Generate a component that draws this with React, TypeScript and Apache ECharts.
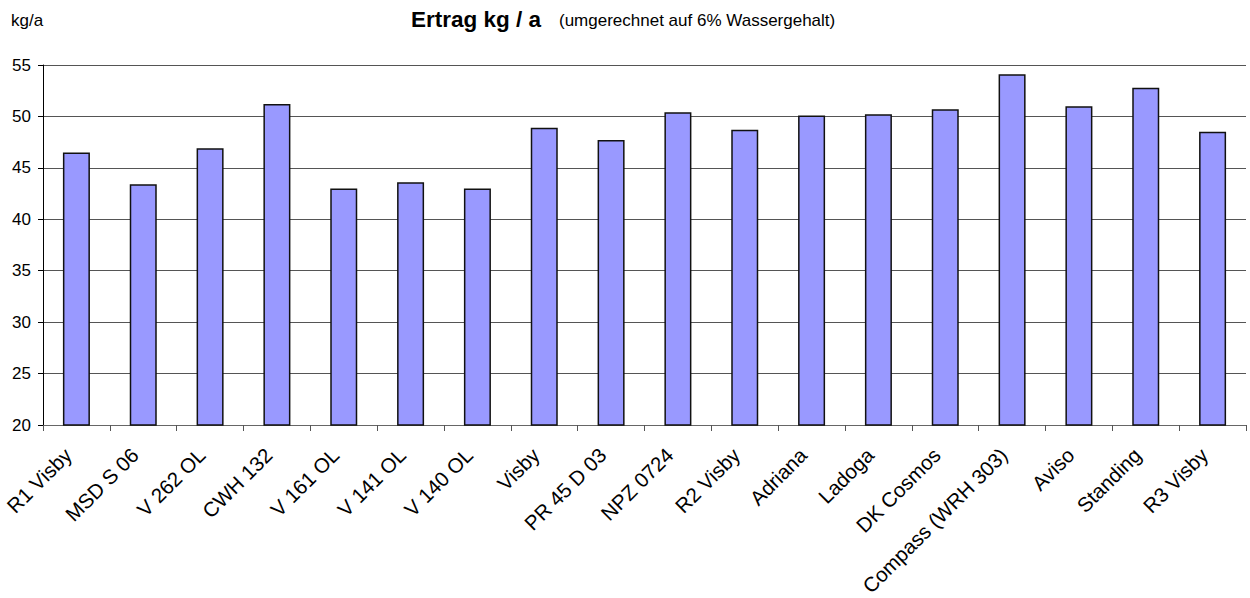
import React, { useEffect, useRef } from "react";
import * as echarts from "echarts";

const categories = [
  "R1 Visby", "MSD S 06", "V 262 OL", "CWH 132", "V 161 OL", "V 141 OL",
  "V 140 OL", "Visby", "PR 45 D 03", "NPZ 0724", "R2 Visby", "Adriana",
  "Ladoga", "DK Cosmos", "Compass (WRH 303)", "Aviso", "Standing", "R3 Visby",
];
const ertrag = [
  46.5, 43.4, 46.9, 51.2, 43.0, 43.6, 43.0, 48.9, 47.7, 50.4, 48.7, 50.1,
  50.2, 50.7, 54.1, 51.0, 52.8, 48.5,
];
const yMin = 20;
const yMax = 55;
const yStep = 5;

const FONT = "'Liberation Sans', Arial, sans-serif";

export default function App() {
  const ref = useRef<HTMLDivElement>(null);
  useEffect(() => {
    if (!ref.current) return;
    const chart = echarts.init(ref.current, null, { renderer: "svg" });
    chart.setOption({
      animation: false,
      backgroundColor: "#ffffff",
      textStyle: { fontFamily: FONT },
      graphic: [
        {
          type: "text",
          left: 411,
          top: 8,
          style: { text: "Ertrag kg / a", font: `bold 22.5px ${FONT}`, fill: "#000" },
        },
        {
          type: "text",
          left: 559,
          top: 12,
          style: { text: "(umgerechnet auf 6% Wassergehalt)", font: `17px ${FONT}`, fill: "#000" },
        },
        {
          type: "text",
          left: 11,
          top: 12,
          style: { text: "kg/a", font: `17px ${FONT}`, fill: "#000" },
        },
      ],
      grid: {
        left: 43,
        right: 4,
        top: 65,
        bottom: 173,
        containLabel: false,
        outerBoundsMode: "none",
      },
      xAxis: {
        type: "category",
        data: categories,
        boundaryGap: true,
        axisLine: { show: true, lineStyle: { color: "#666", width: 1 } },
        axisTick: { show: true, length: 6, lineStyle: { color: "#555" } },
        axisLabel: {
          rotate: 45,
          interval: 0,
          margin: 18,
          padding: [0, 12, 0, 0],
          color: "#000",
          fontSize: 20.5,
          fontFamily: FONT,
        },
        splitLine: { show: false },
      },
      yAxis: {
        type: "value",
        min: yMin,
        max: yMax,
        interval: yStep,
        axisLine: { show: true, lineStyle: { color: "#000", width: 1 } },
        axisTick: { show: true, length: 5, lineStyle: { color: "#000" } },
        axisLabel: { color: "#000", fontSize: 17, fontFamily: FONT, margin: 12 },
        splitLine: { show: true, lineStyle: { color: "#555", width: 1 } },
      },
      series: [
        {
          type: "bar",
          data: ertrag,
          barWidth: 27,
          itemStyle: { color: "#9999ff", borderColor: "#111", borderWidth: 1.5 },
        },
      ],
    });
    return () => chart.dispose();
  }, []);
  return <div ref={ref} style={{ width: 1250, height: 598, position: "absolute", left: 0, top: 0 }} />;
}
